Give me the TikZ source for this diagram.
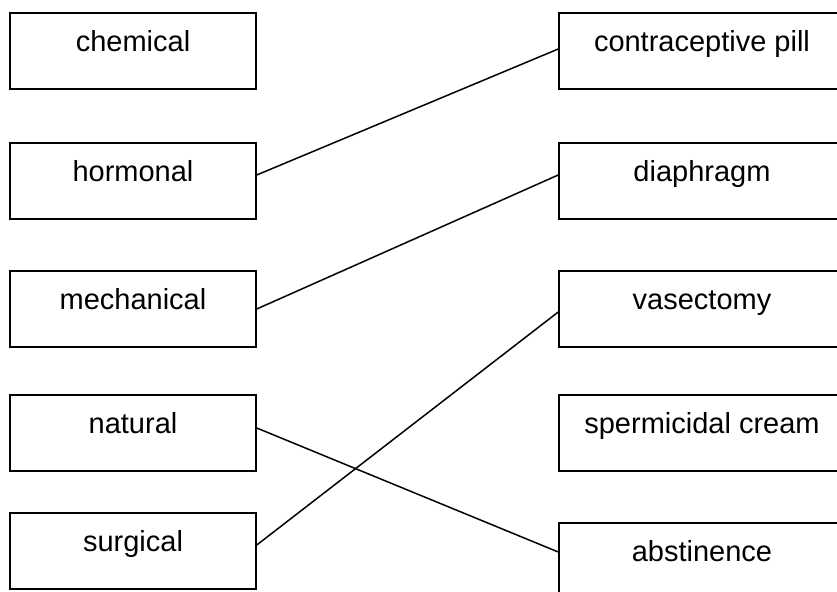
\documentclass[tikz,border=0pt]{standalone}
\usepackage{fontspec}
\setmainfont{Liberation Sans}
\usetikzlibrary{positioning}

\tikzset{
    method/.style={draw, line width=0.75pt, inner sep=0pt, minimum width=123pt,
        text height=19.5pt, text depth=18.5pt, font=\fontsize{14.5}{17}\selectfont},
    example/.style={method, minimum width=143pt},
    match/.style={line width=0.75pt}
}

\begin{document}
\begin{tikzpicture}[x=0.5pt, y=-0.5pt]

    \useasboundingbox (0,0) rectangle (837,592);
    \clip (0,0) rectangle (837,592);

    \node[method] at (133,51) (chem) {chemical};
    \node[method] at (133,181) (horm) {hormonal};
    \node[method] at (133,309) (mech) {mechanical};
    \node[method] at (133,433) (nat) {natural};
    \node[method] at (133,551) (surg) {surgical};

    \node[example] at (702,51) (pill) {contraceptive pill};
    \node[example] at (702,181) (diaph) {diaphragm};
    \node[example] at (702,309) (vasec) {vasectomy};
    \node[example] at (702,433) (sperm) {spermicidal cream};
    \node[example] at (702,561) (abst) {abstinence};

    \draw[match] ([yshift=3pt]horm.east) -- ([yshift=1pt]pill.west);
    \draw[match] (mech.east) -- ([yshift=3pt]diaph.west);
    \draw[match] ([yshift=2.5pt]nat.east) -- ([yshift=4.5pt]abst.west);
    \draw[match] ([yshift=3pt]surg.east) -- ([yshift=-1.5pt]vasec.west);

\end{tikzpicture}
\end{document}
